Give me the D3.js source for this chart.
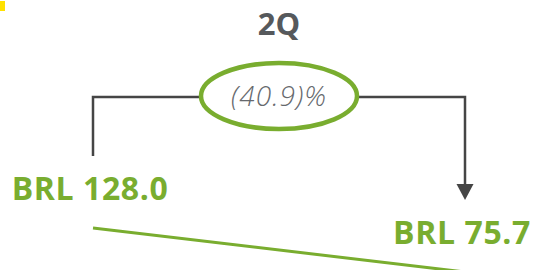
<!DOCTYPE html>
<html>
<head>
<meta charset="utf-8">
<script src="https://cdn.jsdelivr.net/npm/d3@7"></script>
<style>
  html, body { margin: 0; padding: 0; background: #fff; }
  svg { display: block; }
</style>
</head>
<body>
<svg id="chart" width="540" height="270"></svg>
<script>
const period = "2Q";
const categories = ["start", "end"];
const values = [128.0, 75.7];
const currency = "BRL";

const green = "#79ad2f",
  grey = "#56595c",
  dark = "#454545";

const svg = d3.select("#chart");

const x = d3.scalePoint().domain(categories).range([93, 465]);
const y = d3.scaleLinear().domain([75.7, 128.0]).range([272, 228]);

// small yellow tag in the corner
svg.append("rect")
  .attr("x", 0).attr("y", 1)
  .attr("width", 5).attr("height", 10)
  .attr("fill", "#ffe100");

// title
svg.append("text")
  .attr("x", (x("start") + x("end")) / 2)
  .attr("y", 35)
  .attr("text-anchor", "middle")
  .attr("font-family", "Open Sans, sans-serif")
  .attr("font-weight", 700)
  .attr("font-size", 31)
  .attr("fill", grey)
  .text(period);

// green trend line
const line = d3.line()
  .x((d, i) => x(categories[i]))
  .y((d) => y(d));

svg.append("path")
  .datum(values)
  .attr("d", line)
  .attr("fill", "none")
  .attr("stroke", green)
  .attr("stroke-width", 3);

// value labels
svg.selectAll("text.value")
  .data(values)
  .enter()
  .append("text")
  .attr("class", "value")
  .attr("x", (d, i) => x(categories[i]) - 3)
  .attr("y", (d) => y(d) - 28)
  .attr("text-anchor", "middle")
  .attr("font-family", "Open Sans, sans-serif")
  .attr("font-weight", 700)
  .attr("font-size", 32)
  .attr("letter-spacing", 0.6)
  .attr("fill", green)
  .text((d) => `${currency} ${d.toFixed(1)}`);

// bracket with arrow
const topY = 97;
const x0 = x("start"),
  x1 = x("end");
const y0 = y(values[0]) - 72,
  y1 = y(values[1]) - 72;

svg.append("path")
  .attr("d", `M${x0},${y0} V${topY} H${x1} V${y1 - 14}`)
  .attr("fill", "none")
  .attr("stroke", dark)
  .attr("stroke-width", 2.5);

svg.append("path")
  .attr("d", `M${x1 - 8.5},${y1 - 16} L${x1 + 8.5},${y1 - 16} L${x1},${y1} Z`)
  .attr("fill", dark);

// change badge
const change = (values[1] / values[0] - 1) * 100;
const cx = (x0 + x1) / 2;

svg.append("ellipse")
  .attr("cx", cx).attr("cy", 96)
  .attr("rx", 78).attr("ry", 33)
  .attr("fill", "#fff")
  .attr("stroke", green)
  .attr("stroke-width", 4.5);

svg.append("text")
  .attr("x", cx)
  .attr("y", 106)
  .attr("text-anchor", "middle")
  .attr("font-family", "Open Sans, sans-serif")
  .attr("font-style", "italic")
  .attr("font-weight", 300)
  .attr("font-size", 28)
  .attr("letter-spacing", 1)
  .attr("fill", "#66696d")
  .text(change < 0 ? `(${Math.abs(change).toFixed(1)})%` : `${change.toFixed(1)}%`);
</script>
</body>
</html>
